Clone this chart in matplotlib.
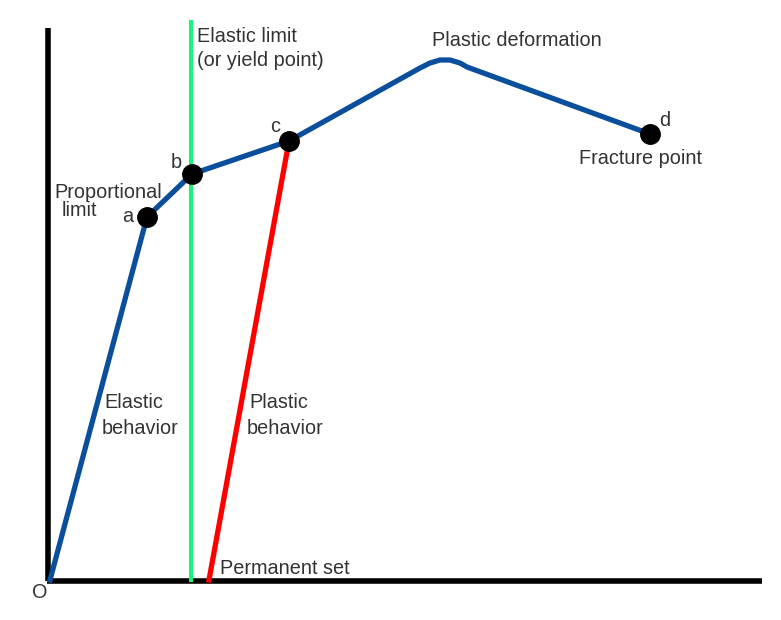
import numpy as np
import matplotlib.pyplot as plt

plt.rcParams['font.family'] = ['Liberation Sans', 'DejaVu Sans']

# stress-strain curve (arbitrary units, origin at O)
CURVE_X = [0, 97, 142, 239, 370, 380, 390, 400, 410, 417, 600]
CURVE_Y = [0, 363, 406, 439, 512, 517, 520, 520, 517, 513, 446]

POINT_NAMES = ['a', 'b', 'c', 'd']
POINT_X = [97, 142, 239, 600]
POINT_Y = [363, 406, 439, 446]

ELASTIC_LIMIT_X = 141
ELASTIC_LIMIT_TOP = 558

PERM_SET_X = [159, 239]
PERM_SET_Y = [0, 439]

BLUE = '#0b4f9c'
GREEN = '#1ef07c'
RED = '#ff0000'
TXT = '#333333'

fig = plt.figure(figsize=(7.81, 6.2), dpi=100)
ax = fig.add_axes([0, 0, 1, 1])
ax.set_xlim(-50, 731)
ax.set_ylim(-40, 580)
ax.axis('off')

# axes lines
ax.plot([-2, -2], [-1, 552], color='black', lw=4, solid_capstyle='butt', zorder=2)
ax.plot([-3, 712], [-1, -1], color='black', lw=4, solid_capstyle='butt', zorder=2)

ax.plot([ELASTIC_LIMIT_X, ELASTIC_LIMIT_X], [0, ELASTIC_LIMIT_TOP], color=GREEN, lw=3, zorder=3)
ax.plot(PERM_SET_X, PERM_SET_Y, color=RED, lw=3.8, zorder=3)
ax.plot(CURVE_X, CURVE_Y, color=BLUE, lw=3.8, zorder=4, solid_joinstyle='round')
ax.plot(POINT_X, POINT_Y, 'o', color='black', ms=14, zorder=5)

fs = 14.3
ax.text(147, 543, 'Elastic limit', fontsize=fs, color=TXT, va='center')
ax.text(147, 520, '(or yield point)', fontsize=fs, color=TXT, va='center')
ax.text(382, 539, 'Plastic deformation', fontsize=fs, color=TXT, va='center')
ax.text(225, 453, 'c', fontsize=fs, color=TXT, ha='center', va='center')
ax.text(126, 417, 'b', fontsize=fs, color=TXT, ha='center', va='center')
ax.text(4, 388, 'Proportional', fontsize=fs, color=TXT, va='center')
ax.text(12, 369, 'limit', fontsize=fs, color=TXT, va='center')
ax.text(78, 364, 'a', fontsize=fs, color=TXT, ha='center', va='center')
ax.text(615, 459, 'd', fontsize=fs, color=TXT, ha='center', va='center')
ax.text(529, 421, 'Fracture point', fontsize=fs, color=TXT, va='center')
ax.text(54, 177, 'Elastic', fontsize=fs, color=TXT, va='center')
ax.text(52, 151, 'behavior', fontsize=fs, color=TXT, va='center')
ax.text(199, 177, 'Plastic', fontsize=fs, color=TXT, va='center')
ax.text(197, 152, 'behavior', fontsize=fs, color=TXT, va='center')
ax.text(170, 12, 'Permanent set', fontsize=fs, color=TXT, va='center')
ax.text(-10, -13, 'O', fontsize=fs, color=TXT, ha='center', va='center')

fig.savefig('out.png', dpi=100)
